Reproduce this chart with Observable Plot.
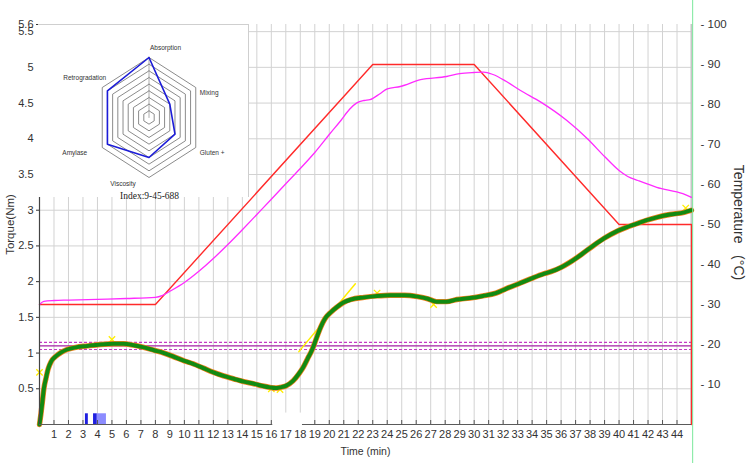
<!DOCTYPE html>
<html><head><meta charset="utf-8">
<script src="https://cdn.jsdelivr.net/npm/d3@7"></script>
<script src="https://cdn.jsdelivr.net/npm/@observablehq/plot@0.6"></script>
<style>
body{margin:0;background:#fff;}
#wrap{position:relative;width:747px;height:463px;overflow:hidden;background:#fff;}
#inset{position:absolute;left:38px;top:24px;width:211px;height:173px;background:#fff;border-top:1px solid #cfcfcf;border-right:1px solid #cfcfcf;box-sizing:border-box;}
#inset svg{display:block;overflow:visible;}
</style></head><body>
<div id="wrap"><div id="main"></div><div id="inset"></div></div>
<script>
// ---- torque curve (Nm) ----
const torqueTime = [0,0.1,0.2,0.3,0.45,0.6,0.8,1.1,1.5,1.9,2.5,3.3,4.2,5.1,5.8,6.5,7.2,7.9,8.6,9.25,10,10.6,11.3,12,12.7,13.4,14.1,14.8,15.4,15.9,16.3,16.6,17,17.5,17.9,18.2,18.5,18.8,19.1,19.4,19.7,20.1,20.5,21,21.5,22.4,23.3,24.2,25.2,26.1,26.8,27.4,28.1,28.8,29.7,30.6,31.5,32.2,32.95,33.9,34.8,35.3,36.0,36.6,37.4,38.2,39.0,39.9,40.5,41.2,41.9,42.6,43.5,44.5,45.0];
const torqueValues = [0,0.15,0.32,0.5,0.65,0.78,0.88,0.95,1.01,1.05,1.08,1.10,1.12,1.13,1.13,1.11,1.08,1.04,1.0,0.95,0.89,0.85,0.79,0.73,0.68,0.64,0.60,0.57,0.54,0.52,0.51,0.52,0.54,0.61,0.71,0.80,0.92,1.04,1.20,1.36,1.48,1.57,1.64,1.71,1.75,1.78,1.80,1.81,1.81,1.79,1.76,1.72,1.72,1.75,1.77,1.80,1.84,1.90,1.96,2.04,2.11,2.14,2.20,2.27,2.38,2.50,2.61,2.71,2.76,2.81,2.86,2.90,2.94,2.97,3.0];
// ---- dough temperature (°C) ----
const tempTime = [0,0.3,1,2,4,6,8,8.5,9,10,11,12,13,14,15,16,17,18,19,20,20.8,21.4,21.9,22.4,22.8,23.5,24,24.9,26.3,28.1,29,30,30.65,31.3,32.2,33.2,34.6,36.4,37.8,39,40,40.6,41.3,42.6,44.4,45];
const tempValues = [30.0,30.8,31.0,31.1,31.3,31.5,31.8,32.3,33.3,35.5,38.3,41.5,45,48.7,52.5,56.3,60.2,64,68,72.5,76,78.8,80.4,81,81.2,82.7,83.9,84.5,86.2,87,87.7,88,88.1,87.5,85.8,83.5,80.6,76,71.5,67,63.5,62,61,59.3,57.7,56.8];
// ---- set temperature profile (°C) ----
const setTime = [0,8,23,30,40,45,45];
const setValues = [30,30,90,90,50,50,0];
// ---- reference lines (Nm) ----
const targetTorque = [1.1];
const toleranceTorque = [1.05,1.15];
const tangentTime = [17.9,21.8];
const tangentTorque = [1.02,1.97];
const markerTime = [0,5.0,16.0,16.6,23.3,27.2,44.6];
const markerTorque = [0.73,1.19,0.5,0.49,1.84,1.68,3.03];
// blue event marks near the bottom
const eventStart = [3.17,3.73,3.99];
const eventEnd = [3.37,3.99,4.62];
const eventHeight = [0.15,0.15,0.15];
const eventColor = ["#1f1fe0","#1f1fe0","#8c8cff"];
const axisGap = [{t1:16.1,t2:18.15,v1:-0.045,v2:0.16}];
const cursorTime = [45.08];
// ---- ticks ----
const minuteTicks = d3.range(1,45);
const torqueTicksLow = [0.5,1,1.5,2,2.5,3];
const torqueTicksHigh = [3.5,4,4.5,5,5.5];
const torqueTop = [5.6];
const tempTicks = [10,20,30,40,50,60,70,80,90,100];
const TORQUE_MAX = 5.6, TEMP_MAX = 100, TIME_MAX = 45;
const t2n = c => c*TORQUE_MAX/TEMP_MAX;
// ---- profiler inset ----
const profileAxes = ["Absorption","Mixing","Gluten +","Viscosity","Amylase","Retrogradation"];
const profileValues = [9,4,5,6,8,8];
const profileMax = 9;
const profileIndex = "Index:9-45-688";

const FONT = "Arial, 'Liberation Sans', sans-serif";

const main = Plot.plot({
  width: 747, height: 463,
  marginLeft: 39, marginRight: 56, marginTop: 24, marginBottom: 39,
  style: {fontFamily: FONT, fontSize: "11px", color: "#333", background: "#fff"},
  x: {domain: [0, TIME_MAX]},
  y: {domain: [0, TORQUE_MAX]},
  marks: [
    Plot.gridX(minuteTicks, {stroke: "#d2d2d2", strokeOpacity: 1}),
    Plot.gridY([...torqueTicksLow, ...torqueTicksHigh], {stroke: "#d2d2d2", strokeOpacity: 1}),
    Plot.ruleX([TIME_MAX], {stroke: "#c6c6c6", strokeWidth: 2}),
    Plot.rect(eventStart, {x1: eventStart, x2: eventEnd, y1: 0, y2: eventHeight, fill: eventColor}),
    Plot.ruleY(targetTorque, {stroke: "#a322a3", strokeWidth: 1.2}),
    Plot.ruleY(toleranceTorque, {stroke: "#c53ac5", strokeWidth: 1.1, strokeDasharray: "3,2"}),
    Plot.line(setValues, {x: setTime, y: setValues.map(t2n), stroke: "#ff2a2a", strokeWidth: 1.4}),
    Plot.line(tempValues, {x: tempTime, y: tempValues.map(t2n), stroke: "#ff2bff", strokeWidth: 1.3, curve: "monotone-x"}),
    Plot.dot(markerTime, {x: markerTime, y: markerTorque, symbol: "times", r: 3, stroke: "#ffee00", strokeWidth: 1.3}),
    Plot.line(tangentTime, {x: tangentTime, y: tangentTorque, stroke: "#ffee00", strokeWidth: 1.5}),
    Plot.line(torqueValues, {x: torqueTime, y: torqueValues, stroke: "#f08020", strokeWidth: 5.4, curve: "monotone-x"}),
    Plot.line(torqueValues, {x: torqueTime, y: torqueValues, stroke: "#128a12", strokeWidth: 4, curve: "monotone-x"}),
    Plot.ruleY([0], {stroke: "#5a5a5a", strokeWidth: 1.2}),
    Plot.ruleX([0], {stroke: "#444", strokeWidth: 1.2}),
    Plot.tickX(minuteTicks, {stroke: "#555", insetTop: 396}),
    Plot.rect(axisGap, {x1: "t1", x2: "t2", y1: "v1", y2: "v2", fill: "#fff"}),
    Plot.axisX(minuteTicks, {tickSize: 0, tickPadding: 6, tickFormat: d => String(d), fontSize: 11, label: null}),
    Plot.axisY(torqueTicksLow, {tickSize: 3, tickPadding: 3, tickFormat: d => String(d), fontSize: 11, label: null}),
    Plot.axisY(torqueTicksHigh, {tickSize: 0, tickPadding: 6, tickFormat: d => String(d), fontSize: 11, label: null}),
    Plot.axisY(torqueTop, {tickSize: 3, tickPadding: 3, tickFormat: d => String(d), fontSize: 11, label: null}),
    Plot.axisY(tempTicks.map(t2n), {anchor: "right", tickSize: 0, tickPadding: 9, tickFormat: d => "- " + Math.round(d*TEMP_MAX/TORQUE_MAX), fontSize: 11.5, label: null}),
    Plot.text(["Torque(Nm)"], {frameAnchor: "left", textAnchor: "middle", dx: -29, dy: 0, rotate: -90, fontSize: 11.5, fill: "#333"}),
    Plot.text(["Temperature\u00a0\u00a0\u00a0(°C)"], {frameAnchor: "right", textAnchor: "middle", dx: 47, dy: -2, rotate: 90, fontSize: 14, fill: "#333"}),
    Plot.text(["Time (min)"], {frameAnchor: "bottom", textAnchor: "middle", dy: 30, fontSize: 10.5, fill: "#333"}),
    Plot.ruleX(cursorTime, {stroke: "#7be89c", strokeWidth: 1, insetTop: -24, insetBottom: -39})
  ]
});
document.getElementById("main").appendChild(main);

// radar inset
const n = profileAxes.length;
const ang = d3.range(n).map(k => k*2*Math.PI/n);
const vx = ang.map(a => Math.sin(a));
const vy = ang.map(a => Math.cos(a));
const ringPts = d3.range(1, profileMax+1).flatMap(l => d3.range(n+1).map(k => ({l, x: l/profileMax*vx[k%n], y: l/profileMax*vy[k%n]})));
const polyPts = d3.range(n+1).map(k => ({x: profileValues[k%n]/profileMax*vx[k%n], y: profileValues[k%n]/profileMax*vy[k%n]}));
const labelStyle = [
  {dx: 1, dy: -10, anchor: "start"},
  {dx: 4, dy: 5, anchor: "start"},
  {dx: 4, dy: 5, anchor: "start"},
  {dx: -26, dy: 6, anchor: "middle"},
  {dx: -15, dy: 5, anchor: "end"},
  {dx: 4, dy: -10, anchor: "end"}
];
const inset = Plot.plot({
  width: 210, height: 177,
  margin: 0,
  style: {fontFamily: FONT, background: "transparent", overflow: "visible"},
  x: {domain: [-1, 1], range: [56.5, 164.5], axis: null},
  y: {domain: [-1, 1], range: [152, 32], axis: null},
  marks: [
    Plot.line(ringPts, {x: "x", y: "y", z: "l", stroke: "#6d6d6d", strokeWidth: 0.8}),
    Plot.line([0, 1], {x: [0, 0], y: [0, 1], stroke: "#9a9a9a", strokeWidth: 0.8}),
    Plot.line(polyPts, {x: "x", y: "y", stroke: "#1c1cd8", strokeWidth: 1.6}),
    ...profileAxes.map((name, k) => Plot.text([name], {x: [vx[k]], y: [vy[k]], dx: labelStyle[k].dx, dy: labelStyle[k].dy, textAnchor: labelStyle[k].anchor, fontSize: 6.5, fill: "#333"})),
    Plot.text([profileIndex], {x: [0], y: [-1], dx: -29, dy: 18, textAnchor: "start", fontSize: 9.5, fontFamily: "'Times New Roman', 'Liberation Serif', serif", fill: "#222"})
  ]
});
document.getElementById("inset").appendChild(inset);
</script>
</body></html>
